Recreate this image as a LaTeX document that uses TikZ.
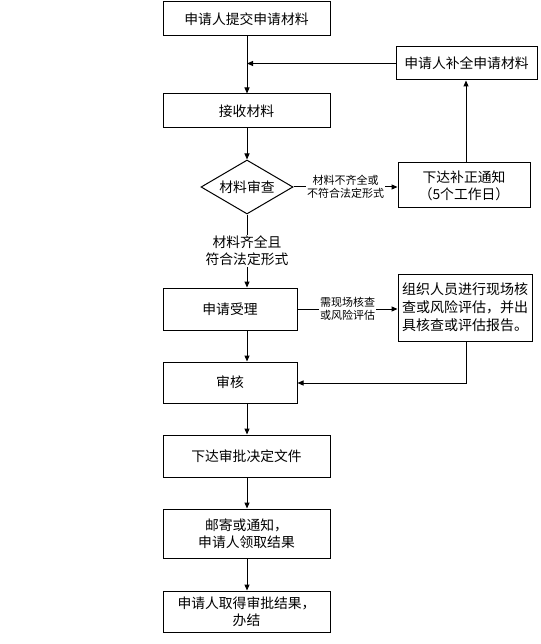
\documentclass[tikz,border=0pt]{standalone}
\usepackage{fontspec}
\setmainfont{Noto Sans CJK SC}
\usetikzlibrary{shapes.geometric,arrows.meta}
\tikzset{
  box/.style={draw, line width=1pt, rectangle, inner sep=0pt, align=center, font=\fontsize{13.8pt}{17pt}\selectfont},
  lab/.style={fill=white, inner sep=1pt, align=center, font=\fontsize{11pt}{13pt}\selectfont},
  bigl/.style={fill=white, inner sep=1pt, align=center, font=\fontsize{13.8pt}{17pt}\selectfont},
  arr/.style={line width=1pt, -{Triangle[length=6pt,width=5pt]}},
  ln/.style={line width=1pt}
}
\begin{document}
\begin{tikzpicture}[x=1pt,y=-1pt]
\useasboundingbox (0,0) rectangle (540,644);
\node[box, minimum width=167pt, minimum height=34pt] (b1) at (246.5,19) {申请人提交申请材料};
\node[box, minimum width=141pt, minimum height=33pt] (bq) at (466.5,63.5) {申请人补全申请材料};
\node[box, minimum width=167pt, minimum height=34pt] (js) at (246.5,111) {接收材料};
\node[draw, line width=1pt, shape=diamond, aspect=1.7, minimum width=92pt, minimum height=54pt, inner sep=0pt, font=\fontsize{13.8pt}{17pt}\selectfont] (sc) at (247,187) {材料审查};
\node[box, minimum width=132pt, minimum height=45pt] (bz) at (464,185.5) {下达补正通知\\（5个工作日）};
\node[box, minimum width=134pt, minimum height=42pt] (sl) at (230,309) {申请受理};
\node[box, minimum width=134pt, minimum height=67pt, font=\fontsize{14pt}{18pt}\selectfont] (zz) at (465,307.5) {组织人员进行现场核\\查或风险评估，并出\\具核查或评估报告。};
\node[box, minimum width=134pt, minimum height=41pt] (sh) at (230,382.5) {审核};
\node[box, minimum width=167pt, minimum height=42pt] (xd) at (246.5,456) {下达审批决定文件};
\node[box, minimum width=167pt, minimum height=49pt] (yj) at (246.5,533.5) {邮寄或通知，\\申请人领取结果};
\node[box, minimum width=167pt, minimum height=41pt] (qd) at (246.5,611.5) {申请人取得审批结果，\\办结};

\coordinate (mx) at (247,0);
\draw[arr] (b1.south -| mx) -- (js.north -| mx);
\draw[arr] (bq.west) -- (bq.west -| mx);
\draw[arr] (js.south -| mx) -- (sc.north);
\draw[arr] (sc.east) -- node[lab] {材料不齐全或\\不符合法定形式} (sc.east -| bz.west);
\draw[arr] (bz.north -| 466,0) -- (bq.south -| 466,0);
\draw[arr] (sc.south) -- node[bigl] {材料齐全且\\符合法定形式} (sc.south |- sl.north);
\draw[arr] (sl.east) -- node[lab] {需现场核查\\或风险评估} (sl.east -| zz.west);
\draw[arr] (sl.south -| mx) -- (sh.north -| mx);
\coordinate (tc) at (466,383);
\draw[arr] (zz.south -| tc) -- (tc) -- (tc -| sh.east);
\draw[arr] (sh.south -| mx) -- (xd.north -| mx);
\draw[arr] (xd.south -| mx) -- (yj.north -| mx);
\draw[arr] (yj.south -| mx) -- (qd.north -| mx);
\end{tikzpicture}
\end{document}
